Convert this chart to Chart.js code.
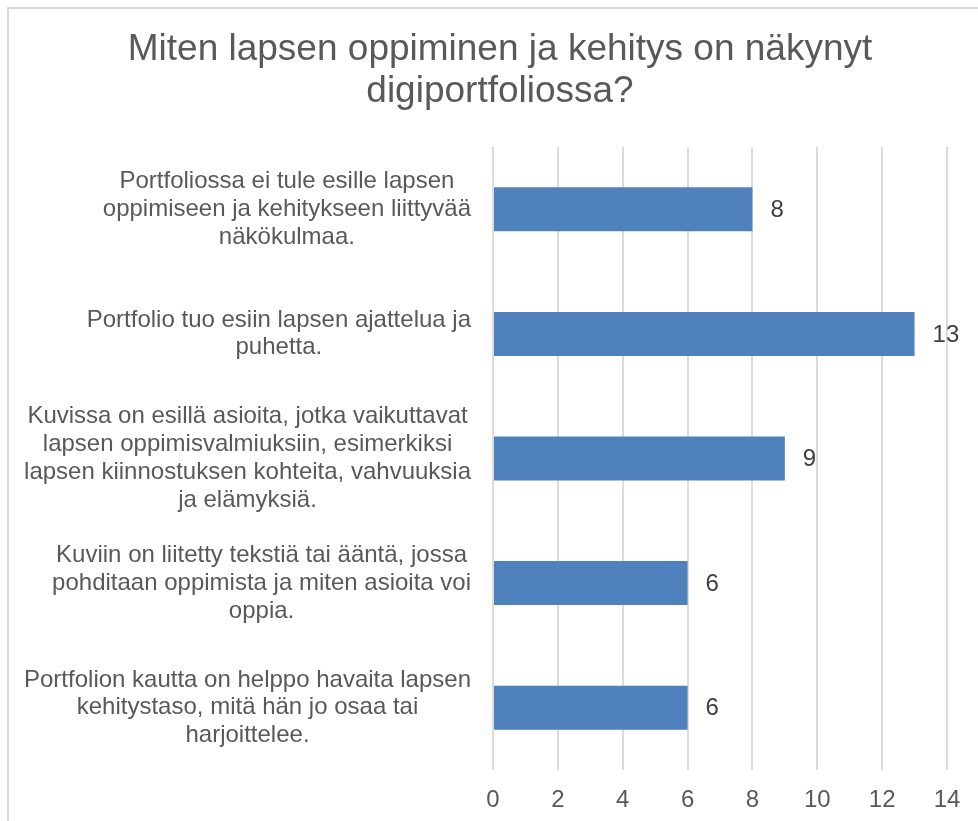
<!DOCTYPE html>
<html>
<head>
<meta charset="utf-8">
<script src="https://cdn.jsdelivr.net/npm/chart.js@4"></script>
<style>
  html, body { margin: 0; padding: 0; background: #fff; overflow: hidden; }
  #wrap { position: relative; width: 978px; height: 821px; overflow: hidden; }
  #frame {
    position: absolute; left: 7px; top: 7px; width: 1000px; height: 850px;
    border-left: 2px solid #d9d9d9; border-top: 2px solid #d9d9d9;
    pointer-events: none;
  }
</style>
</head>
<body>
<div id="wrap">
  <canvas id="chart"></canvas>
  <div id="frame"></div>
</div>
<script>
const titleLines = ["Miten lapsen oppiminen ja kehitys on näkynyt", "digiportfoliossa?"];

const categories = [
  ["Portfoliossa ei tule esille lapsen", "oppimiseen ja kehitykseen liittyvää", "näkökulmaa."],
  ["Portfolio tuo esiin lapsen ajattelua ja", "puhetta."],
  ["Kuvissa on esillä asioita, jotka vaikuttavat", "lapsen oppimisvalmiuksiin, esimerkiksi", "lapsen kiinnostuksen kohteita, vahvuuksia", "ja elämyksiä."],
  ["Kuviin on liitetty tekstiä tai ääntä, jossa", "pohditaan oppimista ja miten asioita voi", "oppia."],
  ["Portfolion kautta on helppo havaita lapsen", "kehitystaso, mitä hän jo osaa tai", "harjoittelee."],
];
const values = [8, 13, 9, 6, 6];
const xMin = 0;
const xMax = 14;
const xStep = 2;

const FONT = "'Liberation Sans', Arial, sans-serif";
const TEXT = "#595959";

// category labels: each block right-aligned to the axis, lines centred inside the block
const categoryLabels = {
  id: "categoryLabels",
  afterDraw(chart) {
    const { ctx } = chart;
    const y = chart.scales.y;
    const right = chart.scales.x.left - 22;
    const lh = 27.8;
    ctx.save();
    ctx.font = `24px ${FONT}`;
    ctx.fillStyle = TEXT;
    ctx.textAlign = "center";
    ctx.textBaseline = "middle";
    chart.data.labels.forEach((lines, i) => {
      const w = Math.max(...lines.map(l => ctx.measureText(l).width));
      const cx = right - w / 2;
      const cy = y.getPixelForTick(i);
      lines.forEach((l, j) => {
        ctx.fillText(l, cx, cy + (j - (lines.length - 1) / 2) * lh);
      });
    });
    ctx.restore();
  },
};

const valueLabels = {
  id: "valueLabels",
  afterDatasetsDraw(chart) {
    const { ctx } = chart;
    const meta = chart.getDatasetMeta(0);
    ctx.save();
    ctx.font = `24px ${FONT}`;
    ctx.fillStyle = "#404040";
    ctx.textAlign = "left";
    ctx.textBaseline = "middle";
    meta.data.forEach((bar, i) => {
      ctx.fillText(String(values[i]), bar.x + 18, bar.y + 1);
    });
    ctx.restore();
  },
};

new Chart(document.getElementById("chart"), {
  type: "bar",
  data: {
    labels: categories,
    datasets: [{
      data: values,
      backgroundColor: "#4f81bd",
      borderWidth: 0,
      barPercentage: 0.353,
      categoryPercentage: 1,
    }],
  },
  options: {
    indexAxis: "y",
    responsive: true,
    maintainAspectRatio: false,
    animation: false,
    layout: { padding: { top: 0, left: 53, right: 31, bottom: 7 } },
    plugins: {
      legend: { display: false },
      tooltip: { enabled: false },
      title: {
        display: true,
        text: titleLines,
        color: TEXT,
        font: { family: FONT, size: 37, weight: "normal", lineHeight: 1.135 },
        padding: { top: 29.2, bottom: 33.8 },
      },
    },
    scales: {
      x: {
        min: xMin,
        max: xMax,
        ticks: {
          stepSize: xStep,
          color: TEXT,
          padding: 15.6,
          font: { family: FONT, size: 24, lineHeight: 1.2 },
        },
        grid: { color: "#dcdcdc", lineWidth: 2, drawTicks: false },
        border: { display: false },
        afterFit(scale) { scale.height = 44; },
      },
      y: {
        ticks: { display: false },
        grid: { display: false },
        border: { display: false },
        afterFit(scale) { scale.width = 440; },
      },
    },
  },
  plugins: [categoryLabels, valueLabels],
});
</script>
</body>
</html>
